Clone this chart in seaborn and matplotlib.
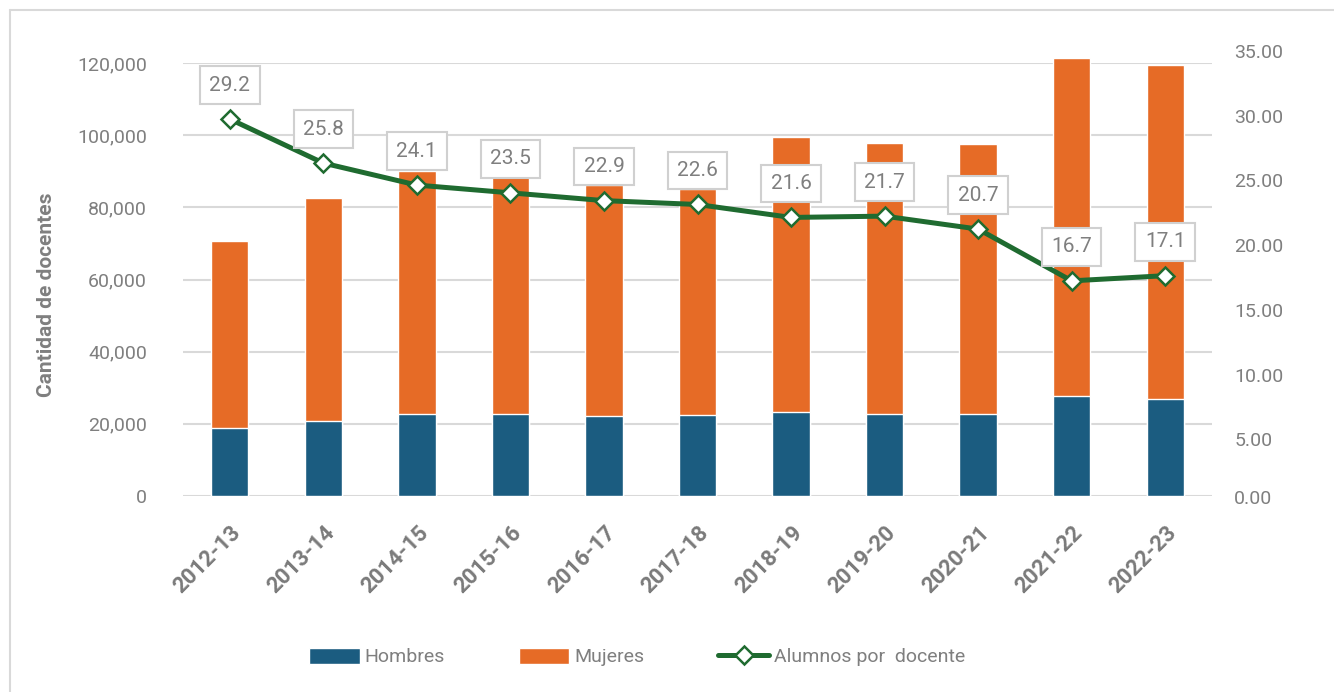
import matplotlib
matplotlib.use("Agg")
import matplotlib.pyplot as plt
import matplotlib.transforms as mtransforms
from matplotlib.lines import Line2D
from matplotlib.patches import Patch
import numpy as np
import pandas as pd
import seaborn as sns

# Docentes por ciclo escolar
seasons = ["2012-13", "2013-14", "2014-15", "2015-16", "2016-17", "2017-18",
           "2018-19", "2019-20", "2020-21", "2021-22", "2022-23"]
hombres = [18800, 20900, 22600, 22800, 22200, 22400, 23200, 22800, 22600, 27800, 27000]
mujeres = [51900, 61700, 67500, 65900, 64000, 62700, 76300, 75000, 75000, 93600, 92400]
alumnos_por_docente = [29.2, 25.8, 24.1, 23.5, 22.9, 22.6, 21.6, 21.7, 20.7, 16.7, 17.1]

BLUE = "#1B5C80"
ORANGE = "#E66B26"
GREEN = "#1F6B30"
GRAY = "#7f7f7f"
GRID = "#d9d9d9"

sns.set_theme(style="white")
plt.rcParams["font.family"] = ["Roboto", "DejaVu Sans"]

df = pd.DataFrame({"ciclo": seasons, "hombres": hombres, "mujeres": mujeres,
                   "ratio": alumnos_por_docente})
df["total"] = df["hombres"] + df["mujeres"]

W, H = 1334, 692
fig = plt.figure(figsize=(W / 100, H / 100), dpi=100)

# chart frame (only left and top edges visible in the reference)
fig.add_artist(Line2D([10 / W, 10 / W], [0, 1 - 10 / H], color="#d9d9d9", lw=1.5))
fig.add_artist(Line2D([10 / W, 1], [1 - 10 / H, 1 - 10 / H], color="#d9d9d9", lw=1.5))

ax = fig.add_axes([183 / W, (H - 496) / H, 1029 / W, 433 / H])

# stacked bars: total in orange, hombres in blue on top of it
sns.barplot(data=df, x="ciclo", y="total", color=ORANGE, saturation=1, width=0.4, ax=ax)
sns.barplot(data=df, x="ciclo", y="hombres", color=BLUE, saturation=1, width=0.4, ax=ax)
for p in ax.patches:
    p.set_clip_on(False)

ax.set_xlim(-0.5, len(seasons) - 0.5)
ax.set_ylim(0, 120000)
ax.set_yticks(np.arange(0, 120001, 20000))
ax.yaxis.set_major_formatter(matplotlib.ticker.StrMethodFormatter("{x:,.0f}"))
ax.yaxis.grid(True, color=GRID, lw=1.5)
ax.set_axisbelow(True)
for s in ax.spines.values():
    s.set_visible(False)
ax.set_xlabel("")
ax.set_ylabel("")
ax.tick_params(axis="y", length=0, pad=26, labelsize=14, labelcolor=GRAY)
ax.tick_params(axis="x", length=0, pad=24, labelsize=16, labelcolor="#7a7a7a")
plt.setp(ax.get_xticklabels(), rotation=45, ha="right", va="center",
         rotation_mode="anchor", fontweight="bold")
xoff = mtransforms.ScaledTranslation(8 / 100, 0, fig.dpi_scale_trans)
for lbl in ax.get_xticklabels():
    lbl.set_transform(lbl.get_transform() + xoff)

fig.text(47 / W, (H - 295) / H, "Cantidad de docentes", rotation=90, ha="center",
         va="center", fontsize=15, fontweight="bold", color=GRAY)

# secondary axis for alumnos por docente
ax2 = fig.add_axes([183 / W, (H - 497) / H, 1029 / W, 453 / H])
ax2.patch.set_visible(False)
sns.lineplot(x=np.arange(len(seasons)), y=df["ratio"], ax=ax2, color=GREEN, lw=3.6,
             marker="D", markersize=9, markerfacecolor="white",
             markeredgecolor=GREEN, markeredgewidth=1.8, zorder=5)
ax2.set_xlim(-0.5, len(seasons) - 0.5)
ax2.set_ylim(0, 35)
ticks = np.arange(0, 36, 5)
ax2.set_yticks(ticks, labels=[f"{t:.2f}" for t in ticks])
ax2.yaxis.tick_right()
ax2.set_xticks([])
ax2.set_xlabel("")
ax2.set_ylabel("")
for s in ax2.spines.values():
    s.set_visible(False)
ax2.tick_params(axis="y", length=0, pad=16, labelsize=14, labelcolor=GRAY)
yoff = mtransforms.ScaledTranslation(0, -7 / 100, fig.dpi_scale_trans)
for t, tick in zip(ticks, ax2.yaxis.get_major_ticks()):
    if t > 0:
        tick.label2.set_transform(tick.label2.get_transform() + yoff)

for i, v in enumerate(df["ratio"]):
    ax2.annotate(f"{v:.1f}", (i, v), xytext=(0, 24.5), textcoords="offset points",
                 ha="center", va="center", fontsize=15, color=GRAY, zorder=6,
                 bbox=dict(boxstyle="square,pad=0.45", fc="white", ec="#d0d0d0", lw=1.5))

handles = [
    Patch(facecolor=BLUE, label="Hombres"),
    Patch(facecolor=ORANGE, label="Mujeres"),
    Line2D([], [], color=GREEN, lw=3.6, marker="D", markersize=9, markerfacecolor="white",
           markeredgecolor=GREEN, markeredgewidth=1.8, label="Alumnos por  docente"),
]
fig.legend(handles=handles, loc="center", bbox_to_anchor=(637 / W, (H - 657) / H),
           ncol=3, frameon=False, fontsize=14, labelcolor=GRAY, handlelength=2.6,
           handleheight=0.9, handletextpad=0.25, columnspacing=3.8)

fig.savefig("out.png", dpi=100)
